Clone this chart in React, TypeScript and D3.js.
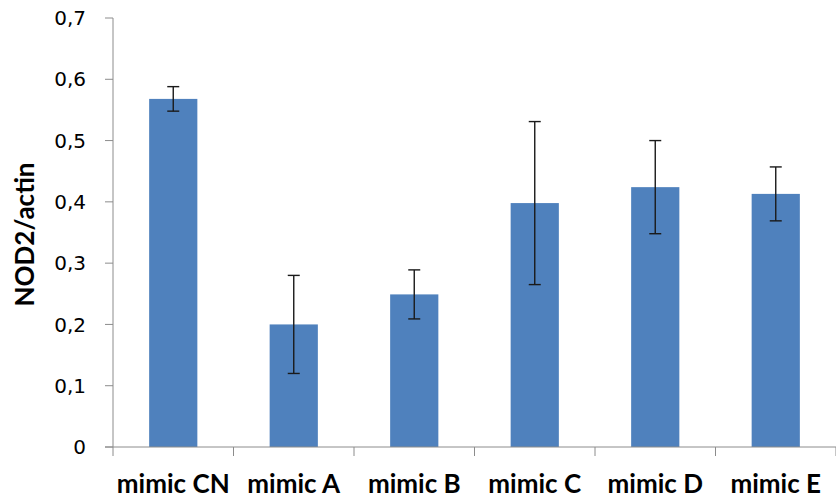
import React from "react";
import * as d3 from "d3";

const categories = ["mimic CN", "mimic A", "mimic B", "mimic C", "mimic D", "mimic E"];
const values = [0.568, 0.2, 0.249, 0.398, 0.424, 0.413];
const errors = [0.02, 0.08, 0.04, 0.133, 0.076, 0.044];
const yTicks = [0, 0.1, 0.2, 0.3, 0.4, 0.5, 0.6, 0.7];

const W = 836;
const H = 498;
const left = 113;
const right = 836;
const top = 18;
const bottom = 447;

export default function App() {
  const x = d3
    .scaleBand<string>()
    .domain(categories)
    .range([left, right])
    .paddingInner(0.6)
    .paddingOuter(0.3);
  const y = d3.scaleLinear().domain([0, 0.7]).range([bottom, top]);
  const step = x.step();
  const fmt = (v: number) => (v === 0 ? "0" : d3.format(".1f")(v).replace(".", ","));
  const axisColor = "#8c8c8c";
  const font = "Lato, 'Open Sans', sans-serif";

  return (
    <svg
      width={W}
      height={H}
      style={{ position: "absolute", left: 0, top: 0, background: "#fff" }}
    >
      {/* bars */}
      {categories.map((c, i) => (
        <rect
          key={c}
          x={x(c)!}
          y={y(values[i])}
          width={x.bandwidth()}
          height={bottom - y(values[i])}
          fill="#4f81bd"
        />
      ))}
      {/* error bars */}
      {categories.map((c, i) => {
        const cx = x(c)! + x.bandwidth() / 2;
        const y1 = y(values[i] + errors[i]);
        const y2 = y(values[i] - errors[i]);
        return (
          <g key={"e" + c} stroke="#1a1a1a" strokeWidth={1.4}>
            <line x1={cx} x2={cx} y1={y1} y2={y2} />
            <line x1={cx - 6} x2={cx + 6} y1={y1} y2={y1} />
            <line x1={cx - 6} x2={cx + 6} y1={y2} y2={y2} />
          </g>
        );
      })}
      {/* y axis */}
      <line x1={left} x2={left} y1={top} y2={bottom} stroke={axisColor} strokeWidth={1} />
      {yTicks.map((t) => (
        <g key={t}>
          <line x1={105} x2={left} y1={y(t)} y2={y(t)} stroke={axisColor} strokeWidth={1} />
          <text
            x={86}
            y={y(t)}
            dy="0.36em"
            textAnchor="end"
            fontFamily="'DejaVu Sans', sans-serif"
            fontSize={20}
            fill="#000"
          >
            {fmt(t)}
          </text>
        </g>
      ))}
      {/* x axis */}
      <line x1={105} x2={right} y1={bottom} y2={bottom} stroke={axisColor} strokeWidth={1} />
      {d3.range(categories.length + 1).map((i) => (
        <line
          key={"xt" + i}
          x1={left + i * step}
          x2={left + i * step}
          y1={bottom}
          y2={bottom + 9}
          stroke={axisColor}
          strokeWidth={1}
        />
      ))}
      {categories.map((c) => (
        <text
          key={"l" + c}
          x={x(c)! + x.bandwidth() / 2}
          y={493}
          textAnchor="middle"
          fontFamily={font}
          fontWeight="bold"
          fontSize={26}
          fill="#000"
        >
          {c}
        </text>
      ))}
      {/* y title */}
      <text
        transform={`translate(34, ${(top + bottom) / 2 + 2}) rotate(-90)`}
        textAnchor="middle"
        fontFamily={font}
        fontWeight="bold"
        fontSize={26}
        fill="#000"
      >
        NOD2/actin
      </text>
    </svg>
  );
}
